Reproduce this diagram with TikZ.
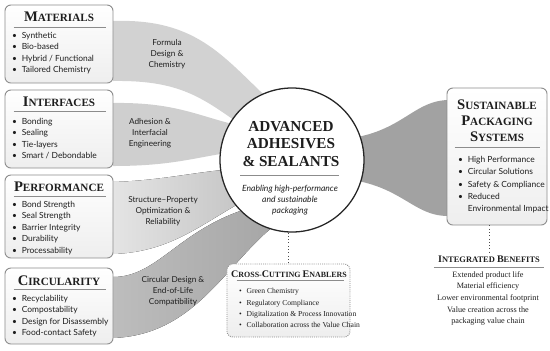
\documentclass[tikz,border=0pt]{standalone}
\usepackage{fontspec}
\setmainfont{Liberation Serif}
\setsansfont{Lato}
\usetikzlibrary{positioning,calc}

\definecolor{boxline}{HTML}{8C8C8C}
\definecolor{boxfill}{HTML}{EEEEEE}
\definecolor{inktext}{HTML}{1E1E1E}
\definecolor{bandA}{HTML}{D2D2D2}
\definecolor{bandB}{HTML}{CFCFCF}
\definecolor{bandCl}{HTML}{E4E4E4}
\definecolor{bandCr}{HTML}{C2C2C2}
\definecolor{bandDl}{HTML}{BDBDBD}
\definecolor{bandDr}{HTML}{A6A6A6}
\definecolor{bandR}{HTML}{A2A2A2}

% fake small caps: big first letter, rest in the running size
\newcommand{\scword}[2]{{\fontsize{12.5}{12}\selectfont #1}#2}
\newcommand{\smallscword}[2]{{\fontsize{8.6}{8}\selectfont #1}#2}
\newcommand{\itm}{\textbullet\hspace{4pt}}
\newcommand{\itmgap}{\phantom{\itm}}

\tikzset{
  catbox/.style={draw=boxline, line width=0.8pt, rounded corners=5pt,
    top color=white, bottom color=boxfill, minimum width=3.24cm},
  cattitle/.style={font=\bfseries\fontsize{9.5}{13.6}\selectfont, text=inktext,
    inner sep=0pt, align=center},
  catlist/.style={font=\sffamily\fontsize{7.2}{9.8}\selectfont, text=inktext,
    align=left, inner sep=0pt, anchor=north west},
  titlerule/.style={draw=boxline, line width=0.6pt},
  bandlabel/.style={font=\sffamily\fontsize{7}{9.4}\selectfont, text=inktext,
    align=center, inner sep=0pt},
  linkdots/.style={dotted, line width=0.8pt, draw=black!70}
}

\begin{document}
\begin{tikzpicture}[x=0.03cm, y=-0.03cm]
\useasboundingbox (0,0) rectangle (550,350);
% Draw the gray bands into the hub
\fill[bandA] (113,21) .. controls (200,18) and (225,60) .. (275,105)
  -- (255,135) .. controls (205,100) and (185,80) .. (113,81) -- cycle;
\fill[bandB] (113,103) .. controls (180,102) and (200,118) .. (250,128)
  -- (250,150) .. controls (200,155) and (180,166) .. (113,166) -- cycle;
\fill[left color=bandCl, right color=bandCr] (113,182) .. controls (170,180) and (200,170) .. (250,168)
  -- (255,195) .. controls (205,220) and (175,252) .. (113,254) -- cycle;
\fill[left color=bandDl, right color=bandDr] (113,277) .. controls (160,277) and (180,225) .. (260,205)
  -- (275,225) .. controls (225,265) and (195,335) .. (113,338) -- cycle;
% Draw the band out to the packaging box
\fill[bandR] (330,140) .. controls (400,138) and (410,101) .. (448,100)
  -- (448,216) .. controls (410,216) and (400,180) .. (330,178) -- cycle;
% Band labels
\node[bandlabel] (lblmat) at (167,54) {Formula\\Design \&\\Chemistry};
\node[bandlabel] (lblint) at (150,133) {Adhesion \&\\Interfacial\\Engineering};
\node[bandlabel] (lblperf) at (163,211) {Structure--Property\\Optimization \&\\Reliability};
\node[bandlabel] (lblcirc) at (173,291) {Circular Design \&\\End-of-Life\\Compatibility};
% Materials
\node[catbox, minimum height=2.34cm] (mat) at (59,44) {};
\node[cattitle] (mattitle) at (59,17) {\scword{M}{ATERIALS}};
\draw[titlerule] ($(mat.north west)+(9,23)$) -- ($(mat.north east)+(-7,23)$);
\node[catlist] (matlist) at (12,32) {\itm Synthetic\\\itm Bio-based\\\itm Hybrid / Functional\\\itm Tailored Chemistry};
% Interfaces
\node[catbox, minimum height=2.34cm] (intf) at (59,129) {};
\node[cattitle] (intftitle) at (59,102) {\scword{I}{NTERFACES}};
\draw[titlerule] ($(intf.north west)+(9,22)$) -- ($(intf.north east)+(-7,22)$);
\node[catlist] (intflist) at (12,118) {\itm Bonding\\\itm Sealing\\\itm Tie-layers\\\itm Smart / Debondable};
% Performance
\node[catbox, minimum height=2.49cm] (perf) at (59,216.5) {};
\node[cattitle] (perftitle) at (59,187) {\scword{P}{ERFORMANCE}};
\draw[titlerule] ($(perf.north west)+(9,22)$) -- ($(perf.north east)+(-7,22)$);
\node[catlist] (perflist) at (12,201) {\itm Bond Strength\\\itm Seal Strength\\\itm Barrier Integrity\\\itm Durability\\\itm Processability};
% Circularity
\node[catbox, minimum height=2.28cm] (circ) at (59,306) {};
\node[cattitle] (circtitle) at (59,281) {\scword{C}{IRCULARITY}};
\draw[titlerule] ($(circ.north west)+(9,22)$) -- ($(circ.north east)+(-7,22)$);
\node[catlist] (circlist) at (12,295) {\itm Recyclability\\\itm Compostability\\\itm Design for Disassembly\\\itm Food-contact Safety};
% Hub circle
\node[circle, draw=black!85, line width=1.1pt, fill=white, minimum size=4.32cm] (hub) at (292,160) {};
\node[font=\bfseries\fontsize{13}{14.6}\selectfont, text=inktext, align=center, inner sep=0pt] (hubtitle) at (291,144) {ADVANCED\\ADHESIVES\\\& SEALANTS};
\draw[titlerule] ($(hub.center)+(-52,15)$) -- ($(hub.center)+(47,15)$);
\node[font=\sffamily\itshape\fontsize{7.3}{9.4}\selectfont, text=inktext, align=center, inner sep=0pt] (hubsub) at (290,200) {Enabling high-performance\\and sustainable\\packaging};
% Sustainable packaging box
\node[catbox, minimum width=3.0cm, minimum height=4.11cm] (sps) at (497,156.5) {};
\node[cattitle] (spstitle) at (497,121) {\scword{S}{USTAINABLE}\\\scword{P}{ACKAGING}\\\scword{S}{YSTEMS}};
\draw[titlerule] ($(sps.north west)+(8,60)$) -- ($(sps.north east)+(-7,60)$);
\node[catlist, font=\sffamily\fontsize{7.2}{10.5}\selectfont] (spslist) at (458,156) {\itm High Performance\\\itm Circular Solutions\\\itm Safety \& Compliance\\\itm Reduced\\\itmgap Environmental Impact};
% Cross-cutting enablers
\node[catbox, densely dotted, minimum width=3.69cm, minimum height=2.19cm] (enab) at (288.5,300.5) {};
\node[font=\bfseries\fontsize{6.8}{8}\selectfont, text=inktext, inner sep=0pt] (enabtitle) at (289,274) {\smallscword{C}{ROSS}-\smallscword{C}{UTTING} \smallscword{E}{NABLERS}};
\draw[titlerule] ($(enab.north west)+(10,17)$) -- ($(enab.north east)+(-6,17)$);
\node[font=\fontsize{6.5}{9.8}\selectfont, text=inktext, align=left, inner sep=0pt, anchor=north west] (enablist) at (239,288) {\itm Green Chemistry\\\itm Regulatory Compliance\\\itm Digitalization \& Process Innovation\\\itm Collaboration across the Value Chain};
\draw[linkdots] (hub.south -| enab.north) -- (enab.north);
% Integrated benefits
\node[font=\bfseries\fontsize{7.2}{8}\selectfont, text=inktext, inner sep=0pt] (beneftitle) at (489,259) {\smallscword{I}{NTEGRATED} \smallscword{B}{ENEFITS}};
\draw[titlerule] ($(beneftitle.west |- 0,267)+(-4,0)$) -- ($(beneftitle.east |- 0,267)+(4,0)$);
\node[font=\fontsize{7}{10}\selectfont, text=inktext, align=center, inner sep=0pt, anchor=north] (beneflist) at (488,271) {Extended product life\\Material efficiency\\Lower environmental footprint\\Value creation across the\\packaging value chain};
\draw[linkdots] (beneftitle.north |- sps.south) -- ([yshift=2pt]beneftitle.north);
\end{tikzpicture}
\end{document}
